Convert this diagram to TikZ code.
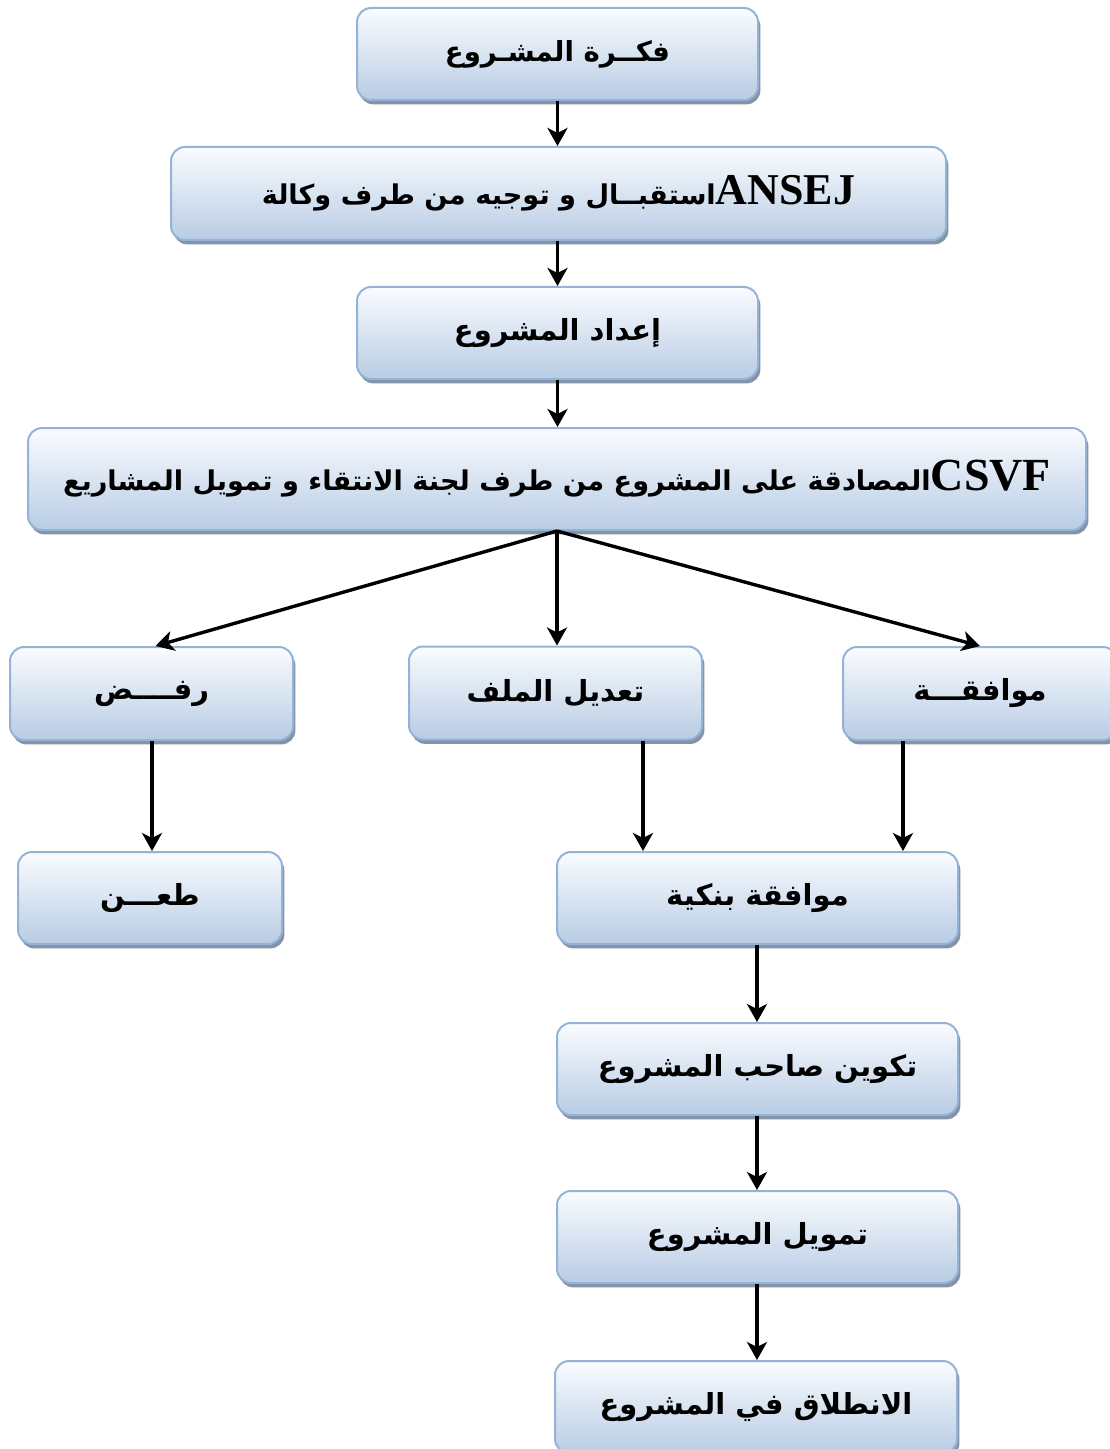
\documentclass[tikz,border=0pt]{standalone}
\usepackage{fontspec}
\usetikzlibrary{arrows.meta,shadows}
\TeXXeTstate=1
\newfontfamily\arabicfont[Script=Arabic]{DejaVu Sans}
\newfontfamily\latinbold{Liberation Serif}
\definecolor{boxbot}{RGB}{184,204,228}
\definecolor{boxtop}{RGB}{250,252,255}
\definecolor{boxline}{RGB}{149,179,215}
\definecolor{shadowc}{RGB}{120,135,158}
\newcommand{\arsize}[1]{\fontsize{#1}{#1}\selectfont}
\tikzset{
  flowbox/.style={rectangle, rounded corners=7pt, draw=boxline, line width=1pt,
    top color=boxtop, bottom color=boxbot,
    drop shadow={shadow xshift=1.2pt, shadow yshift=-2.2pt, fill=shadowc, opacity=0.9},
    font=\arabicfont\bfseries\arsize{14.5}, inner sep=0pt},
  arr/.style={line width=1.7pt, -{Stealth[length=9pt,width=10pt,inset=2.5pt]}},
}
\begin{document}
\begin{tikzpicture}[x=0.5pt,y=-0.5pt]
\useasboundingbox (0,0) rectangle (1109,1449);
\node[flowbox, minimum width=200.5pt, minimum height=46pt, font=\arabicfont\bfseries\arsize{13.8}] (b1) at (557.5,54) {\beginR فكــرة المشـروع\endR};
\node[flowbox, minimum width=387.5pt, minimum height=46.5pt, font=\arabicfont\bfseries\arsize{13.6}] (b2) at (558.5,193.5) {\beginR{\latinbold\arsize{22}\beginL ANSEJ\endL}استقبــال و توجيه من طرف وكالة\endR};
\node[flowbox, minimum width=200.5pt, minimum height=46pt] (b3) at (557.5,333) {\beginR إعداد المشروع\endR};
\node[flowbox, minimum width=529pt, minimum height=51pt, font=\arabicfont\bfseries\arsize{13.6}] (b4) at (557,479) {\beginR{\latinbold\arsize{23}\beginL CSVF\endL}المصادقة على المشروع من طرف لجنة الانتقاء و تمويل المشاريع\endR};
\node[flowbox, minimum width=141.5pt, minimum height=46.5pt] (rafd) at (151.5,693.5) {\beginR رفــــض\endR};
\node[flowbox, minimum width=146.5pt, minimum height=46.5pt] (tadil) at (555.5,693) {\beginR تعديل الملف\endR};
\node[flowbox, minimum width=137pt, minimum height=46.5pt] (muw) at (980,693.5) {\beginR موافقـــة\endR};
\node[flowbox, minimum width=132pt, minimum height=46pt] (taan) at (150,898) {\beginR طعـــن\endR};
\node[flowbox, minimum width=200.5pt, minimum height=46pt] (bank) at (757.5,898) {\beginR موافقة بنكية\endR};
\node[flowbox, minimum width=200.5pt, minimum height=46pt] (takwin) at (757.5,1069) {\beginR تكوين صاحب المشروع\endR};
\node[flowbox, minimum width=200.5pt, minimum height=46pt] (tamwil) at (757.5,1237) {\beginR تمويل المشروع\endR};
\node[flowbox, minimum width=201pt, minimum height=46pt] (intl) at (756,1407) {\beginR الانطلاق في المشروع\endR};
\coordinate (xa) at (643,0);
\coordinate (xb) at (903,0);
\coordinate (xc) at (757,0);
\coordinate (xd) at (152,0);
\draw[arr] (b1.south) -- (b1.south |- b2.north);
\draw[arr] (b2.south -| b1.south) -- (b3.north);
\draw[arr] (b3.south) -- (b3.south |- b4.north);
\draw[arr] (b4.south) -- ([xshift=2pt]rafd.north);
\draw[arr] (b4.south) -- (b4.south |- tadil.north);
\draw[arr] (b4.south) -- (muw.north);
\draw[arr] (rafd.south -| xd) -- (taan.north -| xd);
\draw[arr] (tadil.south -| xa) -- (bank.north -| xa);
\draw[arr] (muw.south -| xb) -- (bank.north -| xb);
\draw[arr] (bank.south -| xc) -- (takwin.north -| xc);
\draw[arr] (takwin.south -| xc) -- (tamwil.north -| xc);
\draw[arr] (tamwil.south -| xc) -- (intl.north -| xc);
\end{tikzpicture}
\end{document}
